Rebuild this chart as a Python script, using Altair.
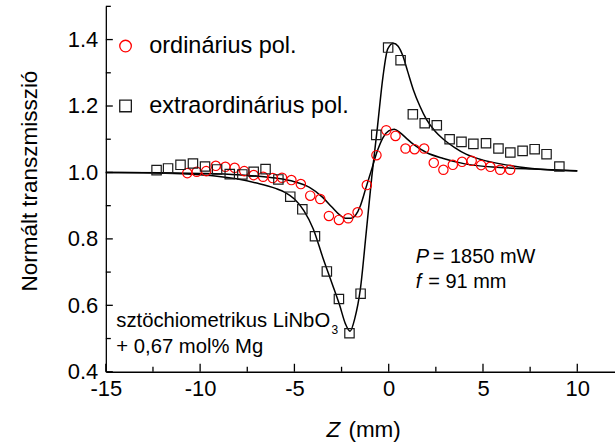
import altair as alt
import pandas as pd

FONT = "Liberation Sans"

# ---- measured points (Z in mm, normalised transmission) ----
ord_name = "ordinárius pol."
ext_name = "extraordinárius pol."

ord_z = [-10.68, -10.18, -9.68, -9.17, -8.66, -8.17, -7.66, -7.16, -6.66, -6.15,
         -5.66, -5.16, -4.66, -4.16, -3.63, -3.17, -2.64, -2.15, -1.65, -1.16,
         -0.65, -0.13, 0.36, 0.89, 1.37, 1.88, 2.39, 2.90, 3.40, 3.89,
         4.40, 4.90, 5.39, 5.91, 6.44]
ord_t = [0.998, 1.002, 1.004, 1.020, 1.017, 1.014, 1.004, 0.992, 0.987, 0.983,
         0.984, 0.977, 0.965, 0.930, 0.920, 0.869, 0.857, 0.862, 0.880, 0.962,
         1.052, 1.127, 1.110, 1.072, 1.070, 1.072, 1.029, 1.008, 1.023, 1.032,
         1.035, 1.022, 1.017, 1.008, 1.008]

ext_z = [-12.31, -11.70, -11.04, -10.38, -9.74, -9.10, -8.43, -7.76, -7.16, -6.53,
         -5.85, -5.22, -4.58, -3.91, -3.28, -2.64, -2.08, -1.49, -0.66, -0.03,
         0.63, 1.28, 1.91, 2.55, 3.23, 3.86, 4.49, 5.16, 5.82, 6.45,
         7.10, 7.74, 8.37, 9.05]
ext_t = [1.007, 1.012, 1.023, 1.027, 1.018, 1.009, 0.995, 0.994, 1.002, 1.010,
         0.979, 0.927, 0.889, 0.808, 0.702, 0.619, 0.516, 0.635, 1.113, 1.376,
         1.338, 1.175, 1.148, 1.142, 1.100, 1.092, 1.086, 1.088, 1.072, 1.060,
         1.065, 1.070, 1.055, 1.018]

# ---- fitted curves ----
fit_ext_z = [-15, -13, -11, -10, -9, -8, -7, -6, -5.5, -5, -4.5, -4, -3.5, -3, -2.6,
             -2.3, -2.05, -1.8, -1.5, -1.2, -0.9, -0.6, -0.3, -0.05, 0.25, 0.5, 0.75,
             1.0, 1.3, 1.65, 2.0, 2.45, 2.9, 3.5, 4.1, 5.0, 6.0, 7.6, 10.0]
fit_ext_t = [1.000, 0.999, 0.996, 0.993, 0.988, 0.980, 0.968, 0.952, 0.940, 0.920, 0.885,
             0.830, 0.745, 0.665, 0.600, 0.545, 0.522, 0.560, 0.650, 0.815, 0.985, 1.135,
             1.290, 1.372, 1.389, 1.380, 1.351, 1.305, 1.250, 1.200, 1.160, 1.125, 1.100,
             1.075, 1.055, 1.037, 1.025, 1.012, 1.004]

fit_ord_z = [-15, -12, -10, -8, -7, -6, -5, -4.2, -3.5, -3.0, -2.6, -2.3, -2.0, -1.75,
             -1.5, -1.2, -0.9, -0.6, -0.3, 0.0, 0.3, 0.6, 0.9, 1.3, 2.0, 2.9, 4.1, 5.9,
             7.6, 10.0]
fit_ord_t = [1.000, 0.999, 0.997, 0.993, 0.989, 0.983, 0.972, 0.955, 0.925, 0.895, 0.872,
             0.862, 0.862, 0.872, 0.900, 0.955, 1.010, 1.065, 1.105, 1.125, 1.130, 1.120,
             1.105, 1.085, 1.060, 1.042, 1.025, 1.015, 1.010, 1.005]

x_major = [-15, -10, -5, 0, 5, 10]
x_minor = [-12.5, -7.5, -2.5, 2.5, 7.5]
y_major = [0.4, 0.6, 0.8, 1.0, 1.2, 1.4]
y_minor = [0.5, 0.7, 0.9, 1.1, 1.3, 1.5]

# ---- tables ----
pts = pd.concat([
    pd.DataFrame({"z": ord_z, "t": ord_t, "series": ord_name}),
    pd.DataFrame({"z": ext_z, "t": ext_t, "series": ext_name}),
])
fits = pd.concat([
    pd.DataFrame({"z": fit_ord_z, "t": fit_ord_t, "series": "ord"}),
    pd.DataFrame({"z": fit_ext_z, "t": fit_ext_t, "series": "ext"}),
])

W, H = 510, 366
OX, OY = 106, 6
xs = alt.Scale(domain=[-15, 12], nice=False, zero=False)
ys = alt.Scale(domain=[0.4, 1.5], nice=False, zero=False)

xaxis = alt.Axis(values=x_major, labelExpr="'' + datum.value", title=None,
                 labelPadding=7, labelFlush=False, labelOverlap=False)
yaxis = alt.Axis(values=y_major, format=".1f", title=None, labelPadding=8,
                 labelFlush=False, labelOverlap=False)

lines = alt.Chart(fits).mark_line(color="black", strokeWidth=1.5,
                                  interpolate="monotone").encode(
    x=alt.X("z:Q", scale=xs, axis=xaxis),
    y=alt.Y("t:Q", scale=ys, axis=yaxis),
    detail="series:N",
)

leg = alt.Legend(title=None, orient="none", legendX=8, legendY=28, padding=0,
                 labelFontSize=23.5, labelFont=FONT, labelColor="black",
                 labelOffset=12, rowPadding=35, labelLimit=0,
                 symbolSize=135, symbolStrokeWidth=1.3)
points = alt.Chart(pts).mark_point(filled=False, size=88, strokeWidth=1.2,
                                   opacity=1).encode(
    x=alt.X("z:Q", scale=xs, axis=xaxis),
    y=alt.Y("t:Q", scale=ys, axis=yaxis),
    color=alt.Color("series:N", scale=alt.Scale(domain=[ord_name, ext_name],
                                                range=["#ff0000", "#1a1a1a"]),
                    legend=leg),
    shape=alt.Shape("series:N", scale=alt.Scale(domain=[ord_name, ext_name],
                                                range=["circle", "square"]),
                    legend=leg),
)


def xticks(vals, length):
    return alt.Chart(pd.DataFrame({"z": vals})).mark_rule(
        color="black", strokeWidth=1.3).encode(
        x=alt.X("z:Q", scale=xs, axis=xaxis),
        y=alt.value(H), y2=alt.value(H - length))


def yticks(vals, length):
    return alt.Chart(pd.DataFrame({"t": vals})).mark_rule(
        color="black", strokeWidth=1.3).encode(
        y=alt.Y("t:Q", scale=ys, axis=yaxis),
        x=alt.value(0), x2=alt.value(length))


def label(text, x, y, size=20, style="normal", angle=0, align="left"):
    return alt.Chart(pd.DataFrame({"s": [text]})).mark_text(
        align=align, baseline="alphabetic", font=FONT, fontSize=size,
        fontStyle=style, color="black", angle=angle).encode(
        text="s:N", x=alt.value(x - OX), y=alt.value(y - OY))


layers = [
    lines, points,
    xticks(x_major, 8), xticks(x_minor, 5),
    yticks(y_major, 7), yticks(y_minor, 5),
    label("P", 416.5, 263.5, style="italic"),
    label("= 1850 mW", 433.5, 263.5),
    label("f", 416.5, 288.5, style="italic"),
    label("= 91 mm", 429, 288.5),
    label("sztöchiometrikus LiNbO", 116.5, 327, size=20.3),
    label("3", 332, 334, size=12),
    label("+ 0,67 mol% Mg", 116.5, 353.5, size=20.3),
    label("Z", 327, 437, size=22.5, style="italic"),
    label("(mm)", 349, 437, size=22.5),
    label("Normált transzmisszió", 37, 181, size=22.5, angle=270, align="center"),
]

chart = alt.layer(*layers).properties(
    width=W, height=H,
    padding={"left": OX, "top": OY, "right": 0, "bottom": 443 - OY - H},
    autosize=alt.AutoSizeParams(type="none"),
).configure_view(stroke=None).configure_axis(
    grid=False, ticks=False, domainColor="black", domainWidth=1.3,
    labelFont=FONT, labelFontSize=22, labelColor="black",
)

chart.save("out.html", embed_options={"renderer": "svg", "actions": False})
